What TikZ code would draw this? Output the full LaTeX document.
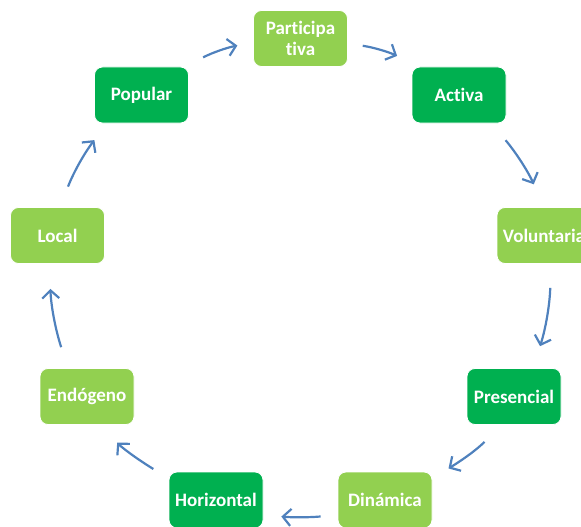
\documentclass[tikz,border=0pt]{standalone}
\usepackage{fontspec}
\setmainfont{Carlito}[Ligatures=NoCommon]
\usetikzlibrary{arrows.meta}
\definecolor{verdeclaro}{HTML}{92D050}
\definecolor{verdeoscuro}{HTML}{00B050}
\definecolor{azulflecha}{HTML}{4F81BD}
\begin{document}
\begin{tikzpicture}[x=1pt,y=-1pt,
  caja/.style={rounded corners=8pt, minimum width=94pt, minimum height=56pt, inner sep=2pt,
    text=white, font=\fontsize{19}{21}\selectfont\bfseries, align=center, draw=white, line width=0.8pt},
  claro/.style={caja, fill=verdeclaro},
  oscuro/.style={caja, fill=verdeoscuro},
  flechita/.style={draw=azulflecha, line width=2.2pt, -{Straight Barb[length=8pt,width=17pt]}}]
\useasboundingbox (0,0) rectangle (581,527);

\node[claro] (participativa) at (300.5,38.5) {Participa\\tiva};
\node[oscuro] (activa) at (459,95) {Activa};
\node[claro] (voluntaria) at (544,235.5) {Voluntaria};
\node[oscuro] (presencial) at (514,396.5) {Presencial};
\node[claro] (dinamica) at (385,500) {Dinámica};
\node[oscuro] (horizontal) at (216,500) {Horizontal};
\node[claro] (endogeno) at (87,396.5) {Endógeno};
\node[claro] (local) at (57.5,235.5) {Local};
\node[oscuro] (popular) at (141.5,95) {Popular};

% flechas en el sentido del reloj
\draw[flechita, shorten <=16pt, shorten >=16pt] ([yshift=2pt]popular.north east) to[bend left=8] ([yshift=-4pt]participativa.west);
\draw[flechita, shorten <=15pt, shorten >=16pt] ([yshift=-5pt]participativa.east) to[bend left=8] ([yshift=4pt]activa.north west);
\draw[flechita, shorten <=22pt, shorten >=25pt] ([xshift=-15pt]activa.south east) to[bend left=8] (voluntaria.north);
\draw[flechita, shorten <=24pt, shorten >=23pt] ([xshift=7pt]voluntaria.south) to[bend left=8] ([xshift=19pt]presencial.north);
\draw[flechita, shorten <=23pt, shorten >=6pt] ([xshift=-14pt]presencial.south) to[bend left=8] ([xshift=11pt]dinamica.north east);
\draw[flechita, shorten <=17pt, shorten >=18pt] ([yshift=-15pt]dinamica.west) to[bend left=5] ([yshift=-15pt]horizontal.east);
\draw[flechita, shorten <=5pt, shorten >=24pt] ([xshift=-11pt]horizontal.north west) to[bend left=8] ([xshift=14pt]endogeno.south);
\draw[flechita, shorten <=22pt, shorten >=25pt] ([xshift=-19pt]endogeno.north) to[bend left=8] ([xshift=-8pt]local.south);
\draw[flechita, shorten <=22pt, shorten >=21pt] ([xshift=2.5pt]local.north) to[bend left=8] ([xshift=13pt]popular.south west);
\end{tikzpicture}
\end{document}
